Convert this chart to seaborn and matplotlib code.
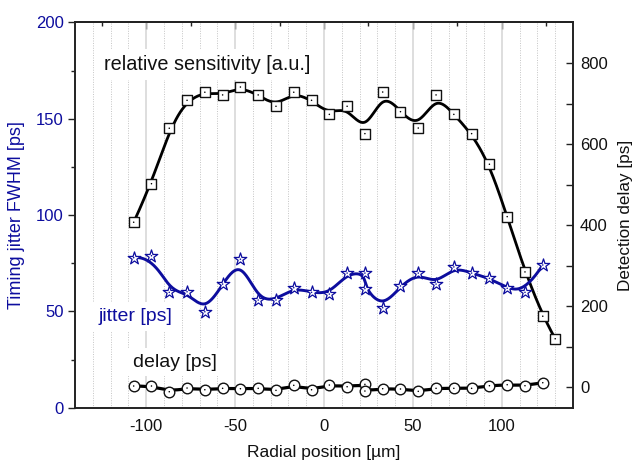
import numpy as np
import pandas as pd
import matplotlib
matplotlib.use("Agg")
import matplotlib.pyplot as plt
from matplotlib.ticker import MultipleLocator, FixedLocator, NullFormatter
import seaborn as sns

# ---------------- data ----------------
x_sens = [-107, -97, -87, -77, -67, -57, -47, -37, -27, -17, -7, 3, 13, 23, 33,
          43, 53, 63, 73, 83, 93, 103, 113, 123, 130]
sensitivity = [96.3, 116.3, 145.1, 159.6, 163.8, 162.4, 166.5, 162.4, 156.5, 163.8,
               159.6, 152.3, 156.5, 142.3, 163.9, 153.7, 145.2, 162.4, 152.3, 142.3,
               126.4, 99.2, 70.5, 47.5, 35.8]

x_jit = [-107, -97, -87, -77, -67, -57, -47, -37, -27, -17, -7, 3, 13, 23, 23,
         33, 43, 53, 63, 73, 83, 93, 103, 113, 123]
jitter = [77.9, 78.9, 59.9, 60.2, 49.8, 64.2, 77.1, 55.9, 55.9, 62.3, 59.9, 59.0,
          69.9, 69.9, 61.8, 51.9, 63.2, 69.9, 64.2, 73.1, 69.9, 67.2, 62.0, 59.9, 74.1]

x_delay = [-107, -97, -87, -77, -67, -57, -47, -37, -27, -17, -7, 3, 13, 23, 23,
           33, 43, 53, 63, 73, 83, 93, 103, 113, 123]
delay = [3.5, 3.5, -10.6, -1.5, -5.7, -2.2, -3.2, -2.2, -7.2, 5.2, -5.7, 5.9, 1.7,
         7.6, -8.9, -3.2, -3.9, -9.6, -2.2, -2.2, -2.2, 4.2, 6.7, 4.2, 11.6]

left_ticks = [0, 50, 100, 150, 200]
right_ticks = [0, 200, 400, 600, 800]
x_ticks = [-100, -50, 0, 50, 100]

BLUE = "#0d0d9e"


def bspline_curve(px, py, k=3, num=600):
    """Clamped cubic B-spline using the data points as control points
    (Origin's 'B-Spline' line connection)."""
    px = np.asarray(px, float)
    py = np.asarray(py, float)
    n = len(px)
    knots = np.concatenate([np.zeros(k + 1), np.arange(1, n - k),
                            np.full(k + 1, n - k)]).astype(float)
    t = np.linspace(0, n - k, num)
    t[-1] -= 1e-9
    B = np.zeros((num, len(knots) - 1))
    for i in range(len(knots) - 1):
        B[:, i] = (knots[i] <= t) & (t < knots[i + 1])
    for d in range(1, k + 1):
        Bn = np.zeros((num, len(knots) - 1 - d))
        for i in range(len(knots) - 1 - d):
            den1 = knots[i + d] - knots[i]
            den2 = knots[i + d + 1] - knots[i + 1]
            term = np.zeros(num)
            if den1 > 0:
                term += (t - knots[i]) / den1 * B[:, i]
            if den2 > 0:
                term += (knots[i + d + 1] - t) / den2 * B[:, i + 1]
            Bn[:, i] = term
        B = Bn
    return B @ px, B @ py


sns.set_theme(style="white")
plt.rcParams["font.family"] = ["Liberation Sans", "DejaVu Sans"]
plt.rcParams["axes.linewidth"] = 1.2
plt.rcParams["axes.unicode_minus"] = False

fig = plt.figure(figsize=(6.38, 4.61), dpi=100)
ax = fig.add_axes([75 / 638, 1 - 407.7 / 461, (573 - 75) / 638, (407.7 - 22.5) / 461])
ax.set_facecolor("white")
for s in ax.spines.values():
    s.set_color("#222222")
    s.set_visible(True)

# vertical grid lines
for gx in range(-130, 131, 10):
    if gx % 50 == 0:
        ax.axvline(gx, color="#d4d4d4", lw=1.1, zorder=0.5)
    else:
        ax.axvline(gx, color="#c4c4c4", lw=0.7, ls=(0, (1, 1.5)), zorder=0.5)

# sensitivity (black squares)
bx, by = bspline_curve(x_sens, sensitivity)
sns.lineplot(x=bx, y=by, sort=False, estimator=None, color="black", lw=2.0, ax=ax, zorder=3)
sns.scatterplot(x=x_sens, y=sensitivity, marker="s", s=50, color="white",
                edgecolor="#111111", linewidth=1.0, ax=ax, zorder=4)
sns.scatterplot(x=x_sens, y=sensitivity, marker="o", s=1.2, color="black",
                edgecolor="none", linewidth=0, ax=ax, zorder=5)

# jitter (blue stars)
jx, jy = bspline_curve(x_jit, jitter)
sns.lineplot(x=jx, y=jy, sort=False, estimator=None, color=BLUE, lw=2.1, ax=ax, zorder=3)
sns.scatterplot(x=x_jit, y=jitter, marker="*", s=90, color="white",
                edgecolor=BLUE, linewidth=0.9, ax=ax, zorder=4)
sns.scatterplot(x=x_jit, y=jitter, marker="o", s=1.2, color=BLUE,
                edgecolor="none", linewidth=0, ax=ax, zorder=5)

ax.set_xlim(-140, 140)
ax.set_ylim(0, 200)
ax.xaxis.set_major_locator(FixedLocator(x_ticks))
ax.xaxis.set_minor_locator(MultipleLocator(10))
ax.yaxis.set_major_locator(FixedLocator(left_ticks))
ax.yaxis.set_minor_locator(MultipleLocator(25))
ax.tick_params(axis="x", which="major", direction="out", length=3.8, width=1.0,
               color="#222222", labelsize=12, labelcolor="#111111", pad=4.0, top=False)
ax.tick_params(axis="x", which="minor", direction="out", length=3.8, width=1.0,
               color="#222222", top=False)
ax.tick_params(axis="y", which="major", direction="out", length=4.8, width=1.0,
               color="#222222", labelsize=12, labelcolor=BLUE, pad=3.3)
ax.tick_params(axis="y", which="minor", direction="out", length=2.6, width=1.0,
               color="#222222")

# top axis ticks (inward, major every 50, minor every 25)
top = ax.secondary_xaxis("top")
top.xaxis.set_major_locator(FixedLocator(x_ticks))
top.xaxis.set_minor_locator(FixedLocator([-125, -75, -25, 25, 75, 125]))
top.xaxis.set_major_formatter(NullFormatter())
top.tick_params(which="major", direction="in", length=5, width=1.0, color="#222222")
top.tick_params(which="minor", direction="in", length=2.6, width=1.0, color="#222222")
top.spines["top"].set_color("#222222")

ax.set_xlabel("Radial position [\u00b5m]", fontsize=12.5, color="#111111")
ax.xaxis.set_label_coords(0.5, -0.097)
ax.set_ylabel("Timing jitter FWHM [ps]", fontsize=13, color=BLUE)
ax.yaxis.set_label_coords(-0.100, 0.5)

# delay (right axis)
ax2 = ax.twinx()
dx, dy = bspline_curve(x_delay, delay)
sns.lineplot(x=dx, y=dy, sort=False, estimator=None, color="black", lw=2.3, ax=ax2, zorder=3)
sns.scatterplot(x=x_delay, y=delay, marker="o", s=58, color="white",
                edgecolor="#111111", linewidth=1.0, ax=ax2, zorder=4)
sns.scatterplot(x=x_delay, y=delay, marker="o", s=1.2, color="black",
                edgecolor="none", linewidth=0, ax=ax2, zorder=5)
ax2.set_ylim(-50, 900)
ax2.yaxis.set_major_locator(FixedLocator(right_ticks))
ax2.yaxis.set_minor_locator(FixedLocator([100, 300, 500, 700]))
ax2.tick_params(axis="y", which="major", direction="in", length=5, width=1.0,
                color="#222222", labelsize=12, labelcolor="#111111", pad=5)
ax2.tick_params(axis="y", which="minor", direction="in", length=5, width=1.0,
                color="#222222")
ax2.set_ylabel("Detection delay [ps]", fontsize=12.3, color="#111111")
ax2.yaxis.set_label_coords(1.090, 0.5)
for s in ax2.spines.values():
    s.set_color("#222222")
ax2.grid(False)
ax.grid(False)

# annotations with white boxes
box = dict(boxstyle="square,pad=0.3", facecolor="white", edgecolor="none")
ax.text(-65.5, 178, "relative sensitivity [a.u.]", fontsize=14.3, color="#111111",
        ha="center", va="center", bbox=box, zorder=2)
ax.text(-106, 47.2, "jitter [ps]", fontsize=14, color=BLUE,
        ha="center", va="center", bbox=box, zorder=2)
ax.text(-84, 23.7, "delay [ps]", fontsize=14, color="#111111",
        ha="center", va="center", bbox=box, zorder=2)

fig.savefig("out.png", dpi=100, facecolor="white")
